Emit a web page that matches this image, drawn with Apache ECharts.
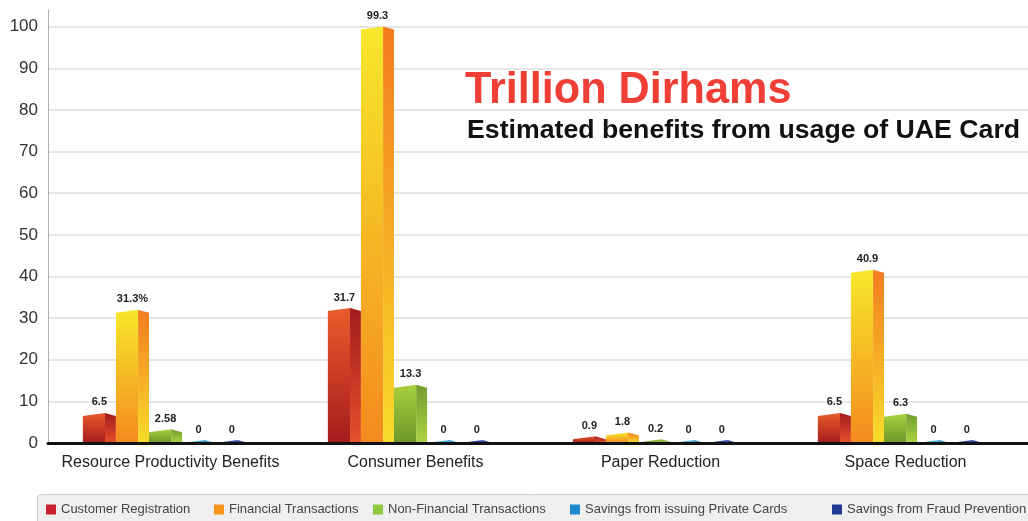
<!DOCTYPE html>
<html>
<head>
<meta charset="utf-8">
<title>Trillion Dirhams</title>
<script src="https://cdn.jsdelivr.net/npm/echarts@6/dist/echarts.min.js"></script>
<style>
  html, body { margin: 0; padding: 0; background: #fff; }
  #chart { width: 1028px; height: 521px; }
</style>
</head>
<body>
<div id="chart"></div>
<script>
// Benefit categories along the x axis
const categories = [
  'Resource Productivity Benefits',
  'Consumer Benefits',
  'Paper Reduction',
  'Space Reduction'
];

// Values in trillion dirhams, one array per benefit source
const customerRegistration = [6.5, 31.7, 0.9, 6.5];
const financialTransactions = [31.3, 99.3, 1.8, 40.9];
const nonFinancialTransactions = [2.58, 13.3, 0.2, 6.3];
const privateCardSavings = [0, 0, 0, 0];
const fraudPreventionSavings = [0, 0, 0, 0];

// Extra text printed after a value label (only one label carries a unit)
const financialLabelSuffix = ['%', '', '', ''];

// Value axis: 0..100 labelled every 10; the axis line runs slightly past 100
const yMin = 0;
const yMax = 104;
const yStep = 10;

const FONT = 'Liberation Sans';

function vgrad(top, bottom) {
  return new echarts.graphic.LinearGradient(0, 0, 0, 1, [
    { offset: 0, color: top },
    { offset: 1, color: bottom }
  ]);
}

// Each source: legend swatch colour plus front/side face shading of its 3D bar
const sources = [
  { name: 'Customer Registration', values: customerRegistration, swatch: '#c8202e',
    front: ['#e95c2d', '#a51b1d'], side: ['#a31d1f', '#e4502b'] },
  { name: 'Financial Transactions', values: financialTransactions, swatch: '#f7941d',
    front: ['#f6e82b', '#f48a1f'], side: ['#f37c20', '#f7dc2a'], suffix: financialLabelSuffix },
  { name: 'Non-Financial Transactions', values: nonFinancialTransactions, swatch: '#8dc63f',
    front: ['#a8d03e', '#6c962b'], side: ['#739c2e', '#abd342'] },
  { name: 'Savings from issuing Private Cards', values: privateCardSavings, swatch: '#1b8ad0',
    front: ['#6cc8ee', '#1a8bcf'], side: ['#1577b6', '#56b7e4'] },
  { name: 'Savings from Fraud Prevention', values: fraudPreventionSavings, swatch: '#1f3a93',
    front: ['#4466c6', '#1d2f8a'], side: ['#17267a', '#3a58b8'] }
];

// Draws one pseudo-3D column: a shaded front face, a narrower side face and a small ridge on top
function makeRenderer(slot, src) {
  return function (params, api) {
    const cat = api.value(0);
    const val = api.value(1);
    const base = api.coord([cat, 0]);
    const top = api.coord([cat, val]);
    const band = api.size([1, 0])[0];
    const w = band * 0.135;
    const x0 = base[0] + (slot - 2.65) * w;
    const x1 = x0 + w;
    const xr = x0 + w * 0.67;
    const yb = base[1];
    const yt = top[1];
    const roof = 3;
    const suffix = src.suffix ? src.suffix[params.dataIndex] : '';
    return {
      type: 'group',
      children: [
        {
          type: 'polygon',
          shape: { points: [[x0, yb], [x0, yt], [xr, yt - roof], [xr, yb]] },
          style: { fill: vgrad(src.front[0], src.front[1]) }
        },
        {
          type: 'polygon',
          shape: { points: [[xr, yt - roof], [x1, yt], [x1, yb], [xr, yb]] },
          style: { fill: vgrad(src.side[0], src.side[1]) }
        },
        {
          type: 'text',
          style: {
            text: String(val) + suffix,
            x: (x0 + x1) / 2,
            y: yt - roof - 5,
            align: 'center',
            verticalAlign: 'bottom',
            fill: '#222',
            fontSize: 11,
            fontWeight: 'bold',
            fontFamily: FONT
          }
        }
      ]
    };
  };
}

const series = sources.map(function (src, i) {
  return {
    name: src.name,
    type: 'custom',
    renderItem: makeRenderer(i, src),
    itemStyle: { color: src.swatch },
    encode: { x: 0, y: 1 },
    data: src.values.map(function (v, c) { return [c, v]; }),
    z: 3
  };
});

// One legend block per source so each swatch sits at its own spot in the footer strip
const legendLefts = [46, 214, 373, 570, 832];
const legends = sources.map(function (src, i) {
  return {
    data: [src.name],
    left: legendLefts[i],
    top: 503,
    padding: 0,
    icon: 'rect',
    itemWidth: 10,
    itemHeight: 10,
    itemGap: 5,
    selectedMode: false,
    textStyle: { fontSize: 13, color: '#444', fontFamily: FONT }
  };
});

const chart = echarts.init(document.getElementById('chart'), null, { renderer: 'canvas' });
chart.setOption({
  animation: false,
  backgroundColor: '#ffffff',
  grid: { left: 48, right: 0, top: 10, bottom: 78, containLabel: false },
  legend: legends,
  xAxis: {
    type: 'category',
    data: categories,
    axisLine: { lineStyle: { color: '#111', width: 3 } },
    axisTick: { show: false },
    axisLabel: { interval: 0, fontSize: 16, color: '#222', fontFamily: FONT, margin: 12 },
    z: 5
  },
  yAxis: {
    type: 'value',
    min: yMin,
    max: yMax,
    interval: yStep,
    axisLine: { show: true, lineStyle: { color: '#a0a0a0', type: 'dotted', width: 1 } },
    axisTick: { show: false },
    axisLabel: {
      fontSize: 17,
      color: '#333',
      fontFamily: FONT,
      margin: 10,
      showMaxLabel: false,
      formatter: function (v) { return v % yStep === 0 ? String(v) : ''; }
    },
    splitLine: { showMaxLine: false, showMinLine: false, lineStyle: { color: '#e6e6e6', width: 2 } }
  },
  graphic: [
    {
      type: 'rect',
      left: 37,
      top: 494,
      shape: { width: 1010, height: 40, r: 3 },
      style: { fill: '#efefef', stroke: '#cfcfcf', lineWidth: 1 },
      z: -1
    },
    {
      type: 'text',
      left: 465,
      top: 68,
      scaleX: 0.96,
      style: { text: 'Trillion Dirhams', fill: '#ef3e36', fontSize: 45, fontWeight: 'bold', fontFamily: FONT },
      z: 10
    },
    {
      type: 'text',
      left: 467,
      top: 117,
      style: { text: 'Estimated benefits from usage of UAE Card', fill: '#111', fontSize: 26.7, fontWeight: 'bold', fontFamily: FONT },
      z: 10
    }
  ],
  series: series
});
</script>
</body>
</html>
